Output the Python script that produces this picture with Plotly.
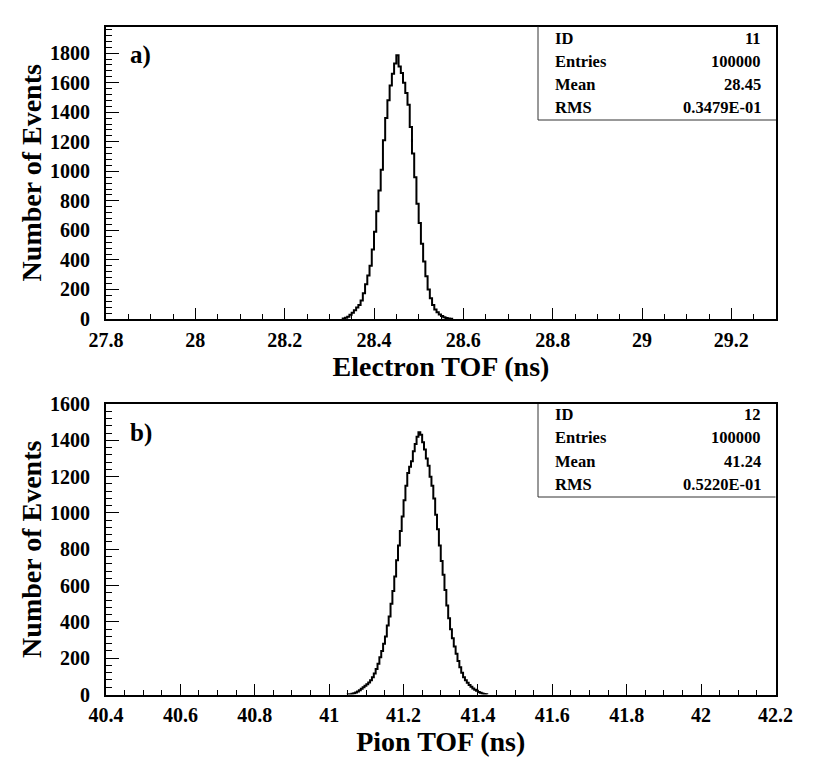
"""TOF histograms for electrons and pions (PAW style)"""
import numpy as np
import plotly.graph_objects as go

# ---- histogram a): electron TOF, bins of 0.005 ns starting at 28.330 ns
e_bin_start = 28.330
e_bin_width = 0.005
e_counts = [
    3, 8, 15, 28, 42, 60, 78, 95, 125, 175,
    235, 295, 360, 470, 590, 730, 870, 1010, 1210, 1360,
    1480, 1580, 1660, 1730, 1785, 1710, 1665, 1600, 1530, 1450,
    1300, 1120, 960, 780, 650, 510, 390, 290, 200, 140,
    95, 65, 45, 30, 20, 12, 7, 3, 1,
]
e_stats = [("ID", "11"), ("Entries", "100000"), ("Mean", "28.45"), ("RMS", "0.3479E-01")]

# ---- histogram b): pion TOF, bins of 0.005 ns starting at 41.050 ns
p_bin_start = 41.050
p_bin_width = 0.005
p_counts = [
    1, 2, 4, 7, 11, 17, 24, 32, 40, 48,
    56, 66, 78, 95, 115, 140, 170, 205, 240, 280,
    320, 380, 430, 500, 570, 650, 740, 820, 900, 980,
    1070, 1150, 1220, 1255, 1285, 1340, 1380, 1420, 1445, 1430,
    1390, 1350, 1300, 1260, 1200, 1150, 1080, 990, 910, 820,
    735, 660, 575, 490, 420, 360, 310, 265, 225, 185,
    150, 120, 95, 78, 65, 52, 42, 33, 26, 20,
    14, 9, 5, 3, 1,
]
p_stats = [("ID", "12"), ("Entries", "100000"), ("Mean", "41.24"), ("RMS", "0.5220E-01")]

W, H = 830, 779
FONT = "Liberation Serif"


def px(x):
    return x / W


def py(y):
    return 1 - y / H


def step_xy(start, width, counts):
    # outline of a PAW style histogram: edges + counts, closed down to zero
    lo = start + width * np.arange(len(counts))
    xs = [lo[0]] + list(lo) + [lo[-1] + width]
    ys = [0] + list(counts) + [0]
    return xs, ys


fig = go.Figure()

ex, ey = step_xy(e_bin_start, e_bin_width, e_counts)
fig.add_trace(go.Scatter(x=ex, y=ey, mode="lines", line_shape="hv",
                         line={"color": "black", "width": 2},
                         xaxis="x", yaxis="y", showlegend=False))
pxs, pys = step_xy(p_bin_start, p_bin_width, p_counts)
fig.add_trace(go.Scatter(x=pxs, y=pys, mode="lines", line_shape="hv",
                         line={"color": "black", "width": 2},
                         xaxis="x2", yaxis="y2", showlegend=False))

tick_font = {"family": FONT, "size": 20, "color": "black", "weight": "bold"}
title_font = {"family": FONT, "size": 28, "color": "black", "weight": "bold"}


def x_axis(rng, title, dom, anchor):
    return dict(
        domain=dom, anchor=anchor, range=rng, tick0=rng[0], dtick=0.2,
        ticks="inside", ticklen=11, tickwidth=1.3, tickcolor="black",
        minor=dict(dtick=0.05, tick0=rng[0], ticks="inside", ticklen=5,
                   tickwidth=1.3, tickcolor="black"),
        showline=True, linecolor="black", linewidth=1.8, mirror=True,
        showgrid=False, zeroline=False, tickfont=tick_font,
        ticklabelstandoff=2, automargin=False,
        title=dict(text=title, font=title_font, standoff=4),
    )


def y_axis(rng, dom, anchor):
    return dict(
        domain=dom, anchor=anchor, range=rng, tick0=0, dtick=200,
        ticks="inside", ticklen=13, tickwidth=1.3, tickcolor="black",
        minor=dict(dtick=40, tick0=0, ticks="inside", ticklen=6,
                   tickwidth=1.3, tickcolor="black"),
        showline=True, linecolor="black", linewidth=1.8, mirror=True,
        showgrid=False, zeroline=False, tickfont=tick_font,
        ticksuffix="\u2002", automargin=False,
        title=dict(text="Number of Events", font=title_font, standoff=0),
    )


fig.update_layout(
    width=W, height=H,
    margin=dict(l=0, r=0, t=0, b=0, autoexpand=False),
    paper_bgcolor="white", plot_bgcolor="white",
    xaxis=x_axis([27.8, 29.3], "Electron TOF (ns)", [px(106), px(776)], "y"),
    yaxis=y_axis([0, 1980], [py(319), py(26.5)], "x"),
    xaxis2=x_axis([40.4, 42.2], "Pion TOF (ns)", [px(106), px(775.5)], "y2"),
    yaxis2=y_axis([0, 1600], [py(694.5), py(404)], "x2"),
)

# panel labels
for lab, ly in (("a)", 55), ("b)", 433)):
    fig.add_annotation(x=px(128), y=py(ly), xref="paper", yref="paper",
                       text=lab, showarrow=False, xanchor="left", yanchor="middle",
                       font={"family": FONT, "size": 25, "color": "black", "weight": "bold"})

# statistics boxes
stat_font = {"family": FONT, "size": 16.5, "color": "black", "weight": "bold"}
for stats, top, first, bottom, right in ((e_stats, 26.5, 38, 120, 776),
                                          (p_stats, 404, 414.5, 497, 775.5)):
    fig.add_shape(type="line", xref="paper", yref="paper",
                  x0=px(538), x1=px(538), y0=py(top), y1=py(bottom),
                  line={"color": "#333333", "width": 1})
    fig.add_shape(type="line", xref="paper", yref="paper",
                  x0=px(538), x1=px(right), y0=py(bottom), y1=py(bottom),
                  line={"color": "#333333", "width": 1})
    for i, (name, val) in enumerate(stats):
        ry = first + 23.3 * i
        fig.add_annotation(x=px(553), y=py(ry), xref="paper", yref="paper",
                           text=name, showarrow=False, xanchor="left",
                           yanchor="middle", font=stat_font)
        fig.add_annotation(x=px(763), y=py(ry), xref="paper", yref="paper",
                           text=val, showarrow=False, xanchor="right",
                           yanchor="middle", font=stat_font)

fig.write_html("out.html", config={"displayModeBar": False},
               post_script="document.body.style.margin='0';")
